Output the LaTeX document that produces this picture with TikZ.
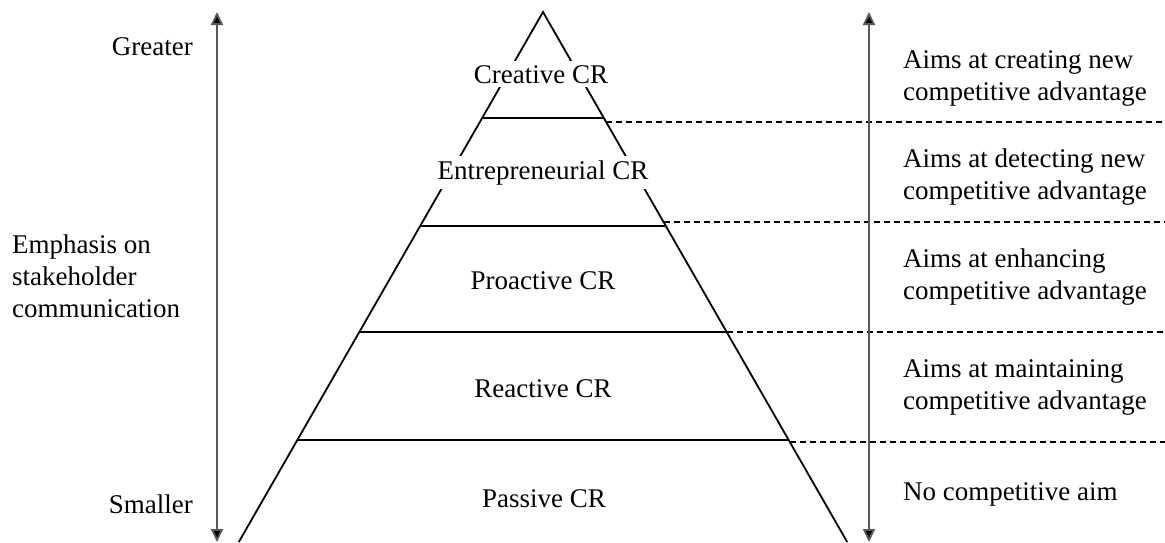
\documentclass[tikz,border=0pt]{standalone}
\usepackage{fontspec}
\setmainfont{Liberation Serif}
\usetikzlibrary{arrows.meta}
\begin{document}
\begin{tikzpicture}[x=1pt,y=-1pt,
  txt/.style={font=\fontsize{27}{32}\selectfont, inner sep=0pt},
  level/.style={txt, fill=white, inner sep=4pt, anchor=base},
  side/.style={txt, align=left, anchor=base west},
  pyr/.style={draw=black, line width=1.8pt},
  dash line/.style={draw=black, line width=1.6pt, dash pattern=on 6pt off 4pt},
  axis/.style={draw=black!65, line width=1.8pt, {Triangle[width=12pt,length=13pt,fill=black]}-{Triangle[width=12pt,length=13pt,fill=black]}}
]
\useasboundingbox (0,0) rectangle (1165,542);
% pyramid corners
\coordinate (apex) at (543,12);
\coordinate (bl) at (238.8,542);
\coordinate (br) at (847.2,542);
% level lines
\coordinate (l1) at (482.2,118); \coordinate (r1) at (603.8,118);
\coordinate (l2) at (420.2,226); \coordinate (r2) at (665.8,226);
\coordinate (l3) at (359.3,332); \coordinate (r3) at (726.7,332);
\coordinate (l4) at (297.3,440); \coordinate (r4) at (788.7,440);
% dashed starts
\coordinate (d1) at (606.1,122); \coordinate (e1) at (1165,122);
\coordinate (d2) at (663.5,222); \coordinate (e2) at (1165,222);
\coordinate (d3) at (726.7,332); \coordinate (e3) at (1165,332);
\coordinate (d4) at (789.8,442); \coordinate (e4) at (1165,442);
% axes
\coordinate (at) at (217,12); \coordinate (ab) at (217,542);
\coordinate (bt) at (869,12); \coordinate (bb) at (869,542);

\draw[pyr] (bl) -- (apex) -- (br);
\draw[pyr] (l1) -- (r1);
\draw[pyr] (l2) -- (r2);
\draw[pyr] (l3) -- (r3);
\draw[pyr] (l4) -- (r4);
\draw[dash line] (d1) -- (e1);
\draw[dash line] (d2) -- (e2);
\draw[dash line] (d3) -- (e3);
\draw[dash line] (d4) -- (e4);
\draw[axis] (ab) -- (at);
\draw[axis] (bb) -- (bt);

% level labels
\node[level] (creative) at (541,83) {Creative CR};
\node[level] (entre) at (543,179) {Entrepreneurial CR};
\node[level] (proactive) at (543,289) {Proactive CR};
\node[level] (reactive) at (543,397) {Reactive CR};
\node[level] (passive) at (544,507) {Passive CR};

% left labels
\node[txt, anchor=base east] (greater) at (193,55) {Greater};
\node[txt, anchor=base east] (smaller) at (193,513) {Smaller};
\node[side] (emph) at (12,317) {Emphasis on\\stakeholder\\communication};

% right labels
\node[side] (a1) at (903,100) {Aims at creating new\\competitive advantage};
\node[side] (a2) at (903,199) {Aims at detecting new\\competitive advantage};
\node[side] (a3) at (903,299) {Aims at enhancing\\competitive advantage};
\node[side] (a4) at (903,409) {Aims at maintaining\\competitive advantage};
\node[side] (a5) at (903,500) {No competitive aim};
\end{tikzpicture}
\end{document}
